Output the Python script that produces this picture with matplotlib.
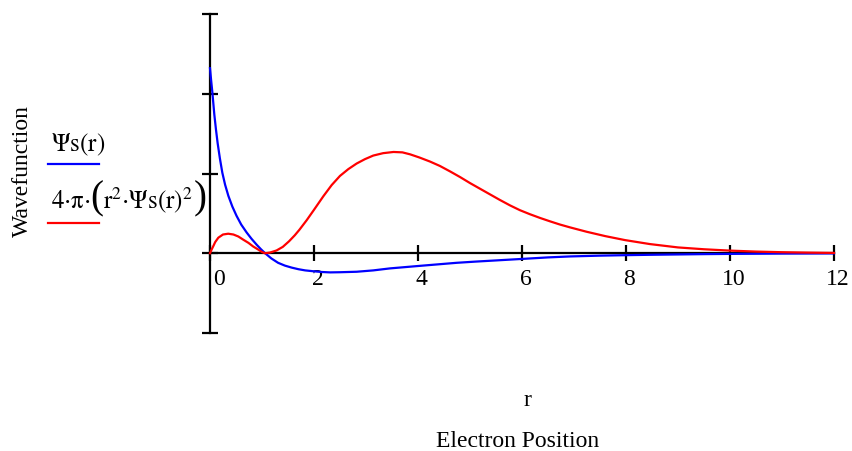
import matplotlib
matplotlib.use("Agg")
import matplotlib.pyplot as plt
from matplotlib.lines import Line2D
from matplotlib.transforms import ScaledTranslation
from matplotlib.offsetbox import TextArea, HPacker, AnchoredOffsetbox

plt.rcParams['font.family'] = ['Liberation Serif', 'DejaVu Serif']
plt.rcParams['mathtext.fontset'] = 'stix'

# ---- data ----
r_psi = [0, 0.02, 0.045, 0.083, 0.115, 0.147, 0.19, 0.237, 0.29, 0.353, 0.43, 0.51,
         0.6, 0.705, 0.8, 0.9, 0.98, 1.06, 1.18, 1.31, 1.44, 1.57, 1.7, 1.83, 1.99,
         2.15, 2.31, 2.5, 2.82, 3.14, 3.46, 3.73, 4.0, 4.37, 4.74, 5.1, 5.5, 6.03,
         6.5, 6.92, 7.5, 8.0, 8.5, 9.0, 9.5, 10.0, 11.0, 12.0]
psi = [2.32, 2.18, 2.02, 1.74, 1.55, 1.38, 1.19, 1.01, 0.86, 0.72, 0.585, 0.47,
       0.36, 0.26, 0.18, 0.105, 0.05, 0.0, -0.065, -0.12, -0.155, -0.18, -0.2,
       -0.215, -0.226, -0.235, -0.24, -0.238, -0.232, -0.215, -0.19, -0.175, -0.16,
       -0.14, -0.12, -0.105, -0.09, -0.07, -0.052, -0.04, -0.03, -0.024, -0.019,
       -0.015, -0.011, -0.008, -0.004, -0.002]

r_prob = [0, 0.03, 0.064, 0.1, 0.16, 0.25, 0.35, 0.45, 0.545, 0.64, 0.74, 0.83, 0.93,
          1.0, 1.06, 1.15, 1.28, 1.4, 1.52, 1.63, 1.72, 1.86, 2.0, 2.18, 2.34, 2.5,
          2.66, 2.82, 2.98, 3.14, 3.33, 3.53, 3.7, 3.85, 4.03, 4.23, 4.42, 4.62,
          4.81, 5.0, 5.19, 5.38, 5.57, 5.77, 5.96, 6.15, 6.35, 6.54, 6.73, 6.92,
          7.24, 7.6, 7.98, 8.46, 9.0, 9.5, 10.0, 10.5, 11.0, 11.5, 12.0]
prob = [0, 0.045, 0.09, 0.14, 0.195, 0.235, 0.245, 0.235, 0.21, 0.17, 0.13, 0.085,
        0.045, 0.015, 0.0, 0.008, 0.035, 0.08, 0.15, 0.225, 0.295, 0.415, 0.545, 0.715,
        0.855, 0.97, 1.055, 1.125, 1.18, 1.225, 1.255, 1.27, 1.265, 1.24, 1.20, 1.15,
        1.095, 1.025, 0.955, 0.88, 0.81, 0.74, 0.67, 0.60, 0.54, 0.49, 0.442, 0.40,
        0.36, 0.325, 0.27, 0.215, 0.165, 0.115, 0.073, 0.05, 0.033, 0.021, 0.013,
        0.008, 0.004]

x_ticks = [0, 2, 4, 6, 8, 10, 12]
x_tick_labels = ['0', '2', '4', '6', '8', '10', '12']
y_ticks = [-1, 0, 1, 2, 3]

legend_psi = r'$\mathrm{\Psi s(r)}$'
legend_prob_parts = [r'$\mathrm{4{\cdot}\pi{\cdot}}$', '(',
                     r'$\mathrm{r^{2}{\cdot}\Psi s(r)^{2}}$', ')']

W, H = 852, 451
fig = plt.figure(figsize=(W / 100, H / 100), dpi=100)
ax = fig.add_axes([210 / W, (H - 333) / H, 624 / W, 319 / H])
ax.set_xlim(0, 12)
ax.set_ylim(-1, 3)

for s in ['top', 'right']:
    ax.spines[s].set_visible(False)
ax.spines['left'].set_position(('data', 0))
ax.spines['bottom'].set_position(('data', 0))
for s in ['left', 'bottom']:
    ax.spines[s].set_linewidth(1.6)
    ax.spines[s].set_color('black')

ax.plot(r_psi, psi, color='#0000ff', lw=1.6, clip_on=False, zorder=3,
        solid_joinstyle='round')
ax.plot(r_prob, prob, color='#ff0000', lw=1.6, clip_on=False, zorder=4,
        solid_joinstyle='round')

ax.set_xticks(x_ticks)
ax.set_xticklabels(x_tick_labels, fontsize=17)
ax.set_yticks(y_ticks)
ax.set_yticklabels([])
ax.tick_params(axis='both', direction='inout', length=12, width=1.6, color='black')
ax.tick_params(axis='x', pad=5.5)

for lab in ax.get_xticklabels():
    dx = 9 if lab.get_text() == '0' else 3.5
    lab.set_transform(lab.get_transform() + ScaledTranslation(dx / 100, 0, fig.dpi_scale_trans))

fig.text(527 / W, (H - 406.5) / H, 'r', fontsize=17, ha='center', va='baseline')
fig.text(517.5 / W, (H - 447) / H, 'Electron Position', fontsize=17, ha='center', va='baseline')
fig.text(22 / W, (H - 171) / H, 'Wavefunction', fontsize=17, ha='center', va='center', rotation=90)

# legend
fig.text(51 / W, (H - 151.7) / H, legend_psi, fontsize=18, ha='left', va='baseline')
fig.add_artist(Line2D([47.7 / W, 98.7 / W], [(H - 164) / H] * 2, transform=fig.transFigure,
                      color='#0000ff', lw=1.6))
sizes = [18, 28, 18, 28]
children = [TextArea(t, textprops=dict(fontsize=fs)) for t, fs in zip(legend_prob_parts, sizes)]
pack = HPacker(children=children, align='baseline', pad=0, sep=0)
anch = AnchoredOffsetbox(loc='lower left', child=pack, pad=0, borderpad=0, frameon=False,
                         bbox_to_anchor=(51 / W, (H - 217) / H),
                         bbox_transform=fig.transFigure)
fig.add_artist(anch)
fig.add_artist(Line2D([47.7 / W, 98.7 / W], [(H - 223.3) / H] * 2, transform=fig.transFigure,
                      color='#ff0000', lw=1.6))

fig.savefig('out.png', dpi=100)
